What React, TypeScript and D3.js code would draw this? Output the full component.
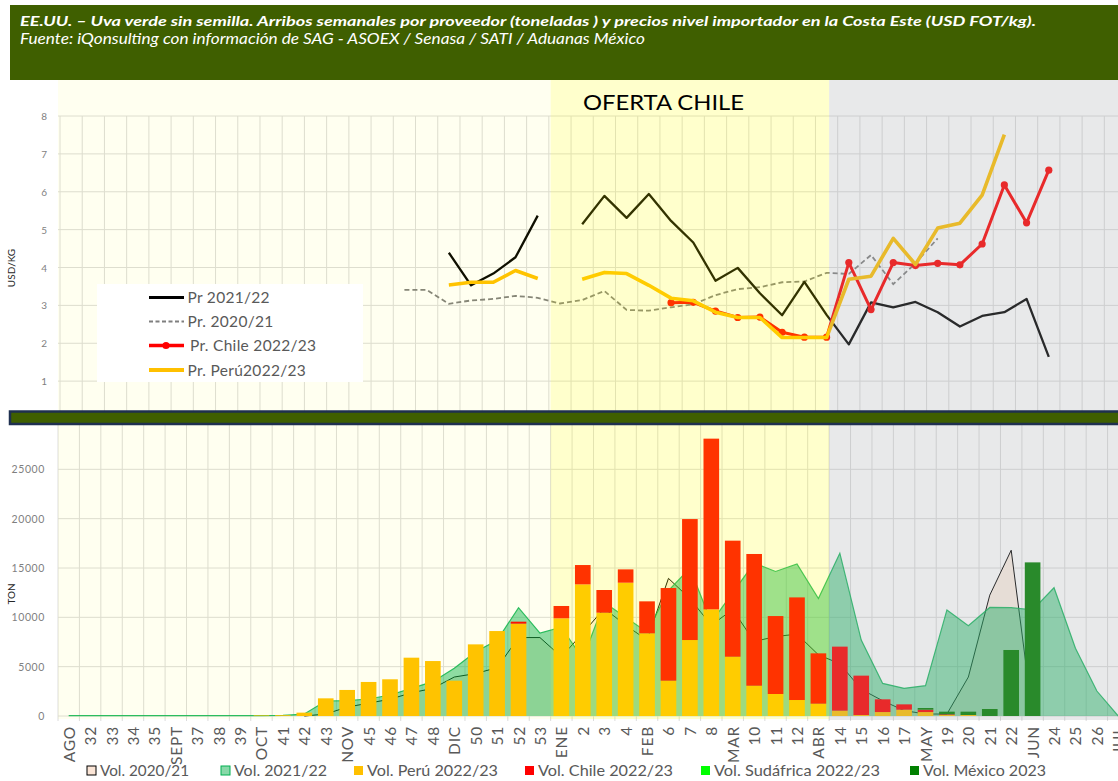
import React from 'react';
import * as d3 from 'd3';

const _ = null;

// ---------- categories ----------
const weekLabels = ["AGO","32","33","34","35","SEPT","37","38","39","OCT","41","42","43","NOV","45","46","47","48","DIC","50","51","52","53","ENE","2","3","4","FEB","6","7","8","MAR","10","11","12","ABR","14","15","16","17","MAY","19","20","21","22","JUN","24","25","26","JUL"];

// ---------- prices (USD/kg) ----------
const prices2021 = [_,_,_,_,_,_,_,_,_,_,_,_,_,_,_,3.41,3.41,3.04,3.13,3.17,3.25,3.20,3.05,3.14,3.38,2.88,2.86,2.95,3.03,3.27,3.43,3.48,3.61,3.63,3.86,3.83,4.33,3.56,4.11,4.77,_,_,_,_,_,_,_,_,_,_];
const prices2122 = [_,_,_,_,_,_,_,_,_,_,_,_,_,_,_,_,_,4.39,3.53,3.84,4.27,5.37,_,5.14,5.89,5.31,5.94,5.23,4.66,3.65,3.99,3.32,2.74,3.62,2.75,1.97,3.08,2.95,3.09,2.82,2.44,2.72,2.82,3.17,1.64,_,_,_,_,_];
const pricesChile = [_,_,_,_,_,_,_,_,_,_,_,_,_,_,_,_,_,_,_,_,_,_,_,_,_,_,_,3.07,3.08,2.85,2.68,2.69,2.29,2.16,2.16,4.13,2.89,4.13,4.05,4.11,4.07,4.62,6.18,5.18,6.57,_,_,_,_,_];
const pricesPeru = [_,_,_,_,_,_,_,_,_,_,_,_,_,_,_,_,_,3.54,3.61,3.61,3.92,3.71,_,3.69,3.87,3.84,3.53,3.19,3.12,2.82,2.68,2.68,2.15,2.15,2.15,3.69,3.77,4.77,4.08,5.04,5.17,5.91,7.51,_,_,_,_,_,_,_];
const priceTicks = [1, 2, 3, 4, 5, 6, 7, 8];

// ---------- volumes (ton) ----------
const vol2021 = [_,_,_,_,_,_,_,_,_,_,_,0,200,900,1300,1700,2350,2800,3950,4300,4900,7950,7950,6000,8400,10900,9200,7700,13950,11900,9200,10800,7550,8050,8300,6200,5300,2700,1550,550,200,200,3950,12250,16800,0,_,_,_,_];
const vol2122 = [30,30,30,30,30,30,30,30,30,40,60,200,1520,1550,1720,2130,2800,3480,4830,6520,7670,10980,8400,9000,5800,11500,10000,8500,12700,15000,9500,12500,15500,14650,15400,11900,16500,7700,3300,2800,3070,10750,9150,11000,10980,10750,13000,6860,2530,0];
const volPeru = [0,0,0,0,0,0,0,0,0,60,80,340,1790,2640,3450,3720,5910,5570,3580,7260,8610,9360,0,9900,13340,10470,13510,8380,3580,7700,10810,6010,3070,2230,1620,1250,540,100,400,640,400,100,100,0,0,0,0,0,0,0];
const volChile = [0,0,0,0,0,0,0,0,0,0,0,0,0,0,0,0,0,0,0,0,0,200,0,1250,1960,2300,1350,3240,9390,12260,17300,11760,13350,7900,10400,5100,6490,3990,1290,540,240,70,0,0,0,0,0,0,0,0];
const volSudafrica = [0,0,0,0,0,0,0,0,0,0,0,0,0,0,0,0,0,0,0,0,0,0,0,0,0,0,0,0,0,0,0,0,0,0,0,0,0,0,0,0,0,0,0,0,0,0,0,0,0,0];
const volMexico = [0,0,0,0,0,0,0,0,0,0,0,0,0,0,0,0,0,0,0,0,0,0,0,0,0,0,0,0,0,0,0,0,0,0,0,0,0,0,0,0,170,270,340,710,6690,15570,0,0,0,0];
const volTicks = [0, 5000, 10000, 15000, 20000, 25000];

const TITLE = "EE.UU. – Uva verde sin semilla. Arribos semanales por proveedor (toneladas ) y precios nivel importador en la Costa Este (USD FOT/kg).";
const SUBTITLE = "Fuente: iQonsulting con información de SAG - ASOEX / Senasa / SATI / Aduanas México";

const FONT = "Lato, 'Open Sans', sans-serif";

export default function App() {
  const W = 1118, H = 781;
  const idx = d3.range(weekLabels.length);

  const xU = d3.scaleBand<number>().domain(idx).range([60, 60 + 50 * 22.22]);
  const xL = d3.scaleBand<number>().domain(idx).range([58, 58 + 50 * 21.42]);
  const yU = d3.scaleLinear().domain([0, 8]).range([419, 116]);
  const yL = d3.scaleLinear().domain([0, 30000]).range([716, 420]);
  const cU = (i: number) => (xU(i) as number) + xU.bandwidth() / 2;
  const cL = (i: number) => (xL(i) as number) + xL.bandwidth() / 2;

  const priceLine = (arr: (number | null)[]) =>
    d3.line<number>()
      .defined((i) => arr[i] != null)
      .x((i) => cU(i))
      .y((i) => yU(arr[i] as number))(idx) || '';

  const volArea = (arr: (number | null)[]) =>
    d3.area<number>()
      .defined((i) => arr[i] != null)
      .x((i) => cL(i))
      .y0(yL(0))
      .y1((i) => yL(arr[i] as number))(idx) || '';
  const volLine = (arr: (number | null)[]) =>
    d3.line<number>()
      .defined((i) => arr[i] != null)
      .x((i) => cL(i))
      .y((i) => yL(arr[i] as number))(idx) || '';

  const rows = idx.map((i) => ({
    peru: volPeru[i], chile: volChile[i], sudafrica: volSudafrica[i], mexico: volMexico[i],
  }));
  const stackKeys = ['peru', 'chile', 'sudafrica', 'mexico'];
  const stackColors: Record<string, string> = { peru: '#ffc000', chile: '#ff0000', sudafrica: '#00ff00', mexico: '#008000' };
  const stacked = d3.stack<any>().keys(stackKeys)(rows);
  const barW = xL.bandwidth() * 0.73;
  const barOff = (xL.bandwidth() - barW) / 2;

  const xStart = xL(0) as number;
  const xEne = xL(23) as number;
  const xApr = xL(36) as number;
  const regionTop = 80, regionBot = 719;

  const upperBounds = d3.range(0, 51).map((k) => 60 + k * xU.step());
  const lowerBounds = d3.range(0, 51).map((k) => 58 + k * xL.step());

  const bottomLegend = [
    { label: 'Vol. 2020/21', fill: '#fbe5d6', stroke: '#000000', x: 87, w: 89 },
    { label: 'Vol. 2021/22', fill: '#88d8a8', stroke: '#00b050', x: 221, w: 93 },
    { label: 'Vol. Perú 2022/23', fill: '#ffc000', stroke: 'none', x: 354, w: 131 },
    { label: 'Vol. Chile 2022/23', fill: '#ff0000', stroke: 'none', x: 525, w: 135 },
    { label: 'Vol. Sudáfrica 2022/23', fill: '#00ff00', stroke: 'none', x: 701, w: 166 },
    { label: 'Vol. México 2023', fill: '#008000', stroke: 'none', x: 910, w: 123 },
  ];

  return (
    <svg width={W} height={H} style={{ position: 'absolute', left: 0, top: 0, background: '#fff' }} fontFamily={FONT}>
      <rect x={0} y={0} width={W} height={H} fill="#ffffff" />
      {/* header */}
      <rect x={10} y={5} width={W - 10} height={75} fill="#3f5f00" />
      <text x={20} y={26} fill="#ffffff" fontSize={14} fontWeight="bold" fontStyle="italic" textLength={1016} lengthAdjust="spacingAndGlyphs">{TITLE}</text>
      <text x={20} y={44} fill="#ffffff" fontSize={14.5} fontStyle="italic" textLength={625} lengthAdjust="spacingAndGlyphs">{SUBTITLE}</text>

      {/* ---------- upper chart grid ---------- */}
      <g stroke="#dcdcdc" strokeWidth={1}>
        {upperBounds.map((x, k) => (
          <line key={'uv' + k} x1={x} x2={x} y1={116} y2={411} />
        ))}
        {priceTicks.map((t) => (
          <line key={'uh' + t} x1={58} x2={W} y1={yU(t)} y2={yU(t)} />
        ))}
      </g>

      {/* upper lines */}
      <path d={priceLine(prices2021)} fill="none" stroke="#7f7f7f" strokeWidth={1.8} strokeDasharray="5,3" />
      <path d={priceLine(prices2122)} fill="none" stroke="#000000" strokeWidth={2.3} strokeLinejoin="round" />
      <path d={priceLine(pricesChile)} fill="none" stroke="#ff0000" strokeWidth={3} strokeLinejoin="round" />
      {idx.filter((i) => pricesChile[i] != null).map((i) => (
        <circle key={'cm' + i} cx={cU(i)} cy={yU(pricesChile[i] as number)} r={3.6} fill="#ff0000" />
      ))}
      <path d={priceLine(pricesPeru)} fill="none" stroke="#ffc000" strokeWidth={3.6} strokeLinejoin="round" />

      {/* ---------- lower chart grid ---------- */}
      <g stroke="#dcdcdc" strokeWidth={1}>
        {lowerBounds.map((x, k) => (
          <line key={'lv' + k} x1={x} x2={x} y1={424} y2={721} />
        ))}
        {volTicks.map((t) => (
          <line key={'lh' + t} x1={58} x2={W} y1={yL(t)} y2={yL(t)} />
        ))}
      </g>

      {/* areas */}
      <path d={volArea(vol2021)} fill="#fcefe5" />
      <path d={volLine(vol2021)} fill="none" stroke="#000000" strokeWidth={1} />
      <path d={volArea(vol2122)} fill="#00b050" fillOpacity={0.47} />
      <path d={volLine(vol2122)} fill="none" stroke="#00b050" strokeWidth={1.2} strokeOpacity={0.85} />

      {/* stacked bars */}
      {stacked.map((s: any) => (
        <g key={s.key} fill={stackColors[s.key]}>
          {s.map((d: any, i: number) => {
            const h = yL(d[0]) - yL(d[1]);
            if (h <= 0) return null;
            return <rect key={i} x={(xL(i) as number) + barOff} y={yL(d[1])} width={barW} height={h} />;
          })}
        </g>
      ))}

      {/* ---------- season regions (overlays) ---------- */}
      <rect x={xStart} y={regionTop} width={xEne - xStart} height={regionBot - regionTop} fill="#ffff00" fillOpacity={0.06} />
      <rect x={xEne} y={regionTop} width={xApr - xEne} height={regionBot - regionTop} fill="#ffff00" fillOpacity={0.2} />
      <rect x={xApr} y={regionTop} width={W - xApr} height={regionBot - regionTop + 1} fill="#a5a6ad" fillOpacity={0.25} />

      <text x={663.5} y={110} fontSize={22} textAnchor="middle" fill="#000" textLength={161} lengthAdjust="spacingAndGlyphs">OFERTA CHILE</text>

      {/* separator bar */}
      <rect x={10} y={411.5} width={W} height={12.5} fill="#3f5f00" stroke="#1f3050" strokeWidth={2.5} />

      {/* upper legend */}
      <rect x={97} y={284} width={266} height={98} fill="#ffffff" />
      <g fontSize={15.5} fill="#595959" letterSpacing={0.3}>
        <line x1={149} x2={184} y1={297.5} y2={297.5} stroke="#000" strokeWidth={3} />
        <text x={187.5} y={303}>Pr 2021/22</text>
        <line x1={149} x2={184} y1={321.5} y2={321.5} stroke="#7f7f7f" strokeWidth={2} strokeDasharray="4,2.5" />
        <text x={187.5} y={327}>Pr. 2020/21</text>
        <line x1={149} x2={184} y1={345.5} y2={345.5} stroke="#ff0000" strokeWidth={3.5} />
        <circle cx={166} cy={345.5} r={3.6} fill="#ff0000" />
        <text x={190} y={351}>Pr. Chile 2022/23</text>
        <line x1={149} x2={184} y1={370} y2={370} stroke="#ffc000" strokeWidth={4} />
        <text x={187.5} y={375.5}>Pr. Perú2022/23</text>
      </g>

      {/* upper y axis */}
      <g fontSize={10} fill="#7f7f7f" textAnchor="end">
        {priceTicks.map((t) => (
          <text key={'ut' + t} x={47} y={yU(t)} dominantBaseline="central">{t}</text>
        ))}
      </g>
      <text transform="translate(11,268) rotate(-90)" fontSize={10} fill="#262626" textAnchor="middle" dominantBaseline="central">USD/KG</text>

      {/* lower y axis */}
      <g fontSize={10.5} fill="#7f7f7f" textAnchor="end" letterSpacing={0.6}>
        {volTicks.map((t) => (
          <text key={'lt' + t} x={45} y={yL(t)} dominantBaseline="central">{t}</text>
        ))}
      </g>
      <text transform="translate(11,594) rotate(-90)" fontSize={10} fill="#262626" textAnchor="middle" dominantBaseline="central">TON</text>

      {/* x axis labels */}
      <g fontSize={15.5} fill="#595959" letterSpacing={0.8}>
        {weekLabels.map((lab, i) => (
          <text key={'xl' + i} transform={`translate(${cL(i)},726) rotate(-90)`} textAnchor="end" dominantBaseline="central">{lab}</text>
        ))}
      </g>

      {/* bottom legend */}
      <g fontSize={15} fill="#595959">
        {bottomLegend.map((l) => (
          <g key={l.label}>
            <rect x={l.x} y={766} width={9} height={9} fill={l.fill} stroke={l.stroke} strokeWidth={l.stroke === 'none' ? 0 : 1} />
            <text x={l.x + 13} y={776} textLength={l.w} lengthAdjust="spacingAndGlyphs">{l.label}</text>
          </g>
        ))}
      </g>
    </svg>
  );
}
